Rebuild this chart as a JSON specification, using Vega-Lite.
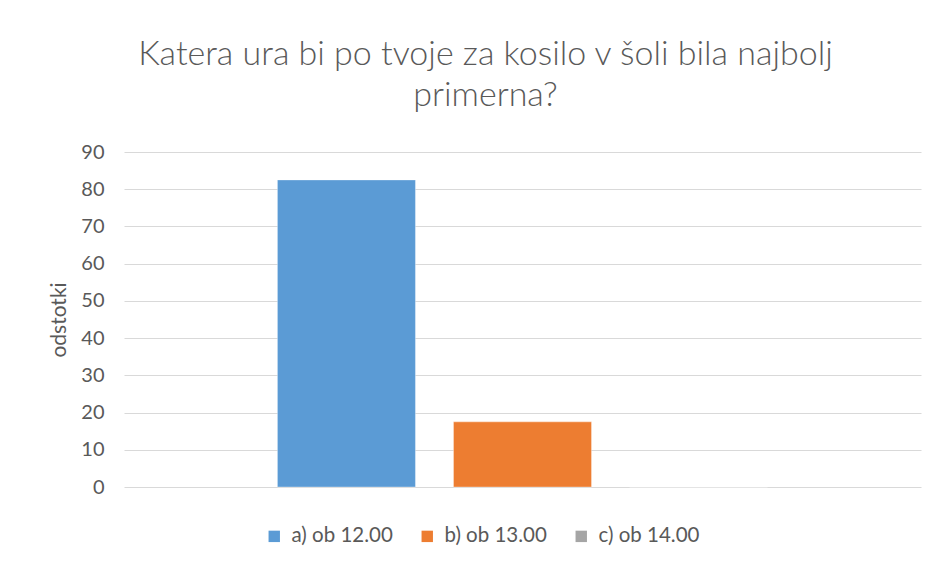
{
  "$schema": "https://vega.github.io/schema/vega-lite/v6.json",
  "width": 797,
  "height": 335,
  "autosize": {"type": "none"},
  "padding": {"left": 124, "top": 152, "right": 18, "bottom": 82},
  "background": "white",
  "title": {
    "text": ["Katera ura bi po tvoje za kosilo v šoli bila najbolj", "primerna?"],
    "font": "Lato",
    "fontSize": 34,
    "fontWeight": 300,
    "color": "#595959",
    "lineHeight": 41,
    "anchor": "middle",
    "dx": -37,
    "offset": 29
  },
  "data": {
    "values": [
      {"kategorija": "1", "serija": "a) ob 12.00", "odstotki": 82.5},
      {"kategorija": "1", "serija": "b) ob 13.00", "odstotki": 17.5},
      {"kategorija": "1", "serija": "c) ob 14.00", "odstotki": 0}
    ]
  },
  "mark": {"type": "bar", "stroke": "white", "strokeOpacity": 0.35, "strokeWidth": 1},
  "encoding": {
    "x": {
      "field": "kategorija",
      "type": "nominal",
      "axis": null,
      "scale": {"paddingInner": 0, "paddingOuter": 0.313}
    },
    "xOffset": {
      "field": "serija",
      "type": "nominal",
      "sort": ["a) ob 12.00", "b) ob 13.00", "c) ob 14.00"],
      "scale": {"paddingInner": 0.216, "paddingOuter": 0}
    },
    "y": {
      "field": "odstotki",
      "type": "quantitative",
      "scale": {"domain": [0, 90], "nice": false},
      "axis": {
        "title": "odstotki",
        "values": [0, 10, 20, 30, 40, 50, 60, 70, 80, 90],
        "domain": false,
        "ticks": false,
        "grid": true,
        "gridColor": "#d9d9d9",
        "gridWidth": 1,
        "labelFont": "Lato",
        "labelFontSize": 20,
        "labelColor": "#595959",
        "labelPadding": 20,
        "titleFont": "Lato",
        "titleFontSize": 21,
        "titleFontWeight": "normal",
        "titleColor": "#595959",
        "titlePadding": 11
      }
    },
    "color": {
      "field": "serija",
      "type": "nominal",
      "sort": ["a) ob 12.00", "b) ob 13.00", "c) ob 14.00"],
      "scale": {"range": ["#5B9BD5", "#ED7D31", "#A5A5A5"]},
      "legend": {
        "title": null,
        "orient": "none",
        "direction": "horizontal",
        "legendX": 140,
        "legendY": 374,
        "symbolType": "square",
        "symbolSize": 130,
        "symbolStrokeWidth": 0,
        "labelFont": "Lato",
        "labelFontSize": 20.5,
        "labelColor": "#595959",
        "labelOffset": 7,
        "columnPadding": 24
      }
    }
  },
  "config": {
    "view": {"stroke": null}
  }
}
